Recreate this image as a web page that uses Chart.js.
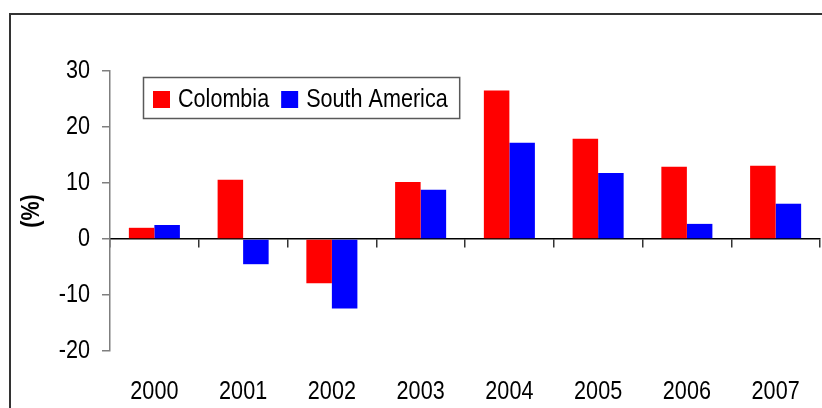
<!DOCTYPE html>
<html>
<head>
<meta charset="utf-8">
<script src="https://cdn.jsdelivr.net/npm/chart.js@4.4.0/dist/chart.umd.min.js"></script>
<style>
  html, body { margin: 0; padding: 0; background: #fff; overflow: hidden; }
  #wrap { position: relative; width: 822px; height: 408px; }
</style>
</head>
<body>
<div id="wrap"><canvas id="c" width="822" height="408"></canvas></div>
<script>
// Annual growth rates (%)
const years = ['2000', '2001', '2002', '2003', '2004', '2005', '2006', '2007'];
const colombia = [2.0, 10.6, -7.9, 10.2, 26.5, 17.9, 12.9, 13.1];
const southAmerica = [2.5, -4.5, -12.4, 8.8, 17.2, 11.8, 2.7, 6.3];
const seriesNames = ['Colombia', 'South America'];
const yMin = -20, yMax = 30, yStep = 10;
const yTitle = '(%)';

const FONT = "'Liberation Sans', Arial, sans-serif";
const FONT_SIZE = 26;
// Narrow face emulation: text is drawn horizontally condensed around its anchor
const TEXT_SCALE_X = 0.83;

const canvas = document.getElementById('c');
const ctx2d = canvas.getContext('2d');
const nativeFillText = ctx2d.fillText;
ctx2d.fillText = function (text, x, y, maxWidth) {
  this.save();
  this.translate(x, y);
  this.scale(TEXT_SCALE_X, 1);
  if (maxWidth === undefined) nativeFillText.call(this, text, 0, 0);
  else nativeFillText.call(this, text, 0, 0, maxWidth / TEXT_SCALE_X);
  this.restore();
};

// Outer frame around the figure (right and bottom edges run off the canvas)
const framePlugin = {
  id: 'frame',
  beforeDraw(chart) {
    const ctx = chart.ctx;
    ctx.save();
    ctx.strokeStyle = '#333';
    ctx.lineWidth = 2;
    ctx.strokeRect(10, 14, 1000, 1000);
    ctx.restore();
  }
};

// Boxed legend inside the plot area
const boxLegendPlugin = {
  id: 'boxLegend',
  afterDraw(chart) {
    const ctx = chart.ctx;
    const ds = chart.data.datasets;
    ctx.save();
    ctx.font = FONT_SIZE + 'px ' + FONT;
    ctx.textBaseline = 'middle';
    ctx.textAlign = 'left';
    const boxX = 143.5, boxY = 77.5, boxH = 41;
    const sw = 17, midY = 99.5, textGap = 8, itemGap = 12;
    let x = boxX + 9.5;
    const items = [];
    ds.forEach(d => {
      const w = ctx.measureText(d.label).width * TEXT_SCALE_X;
      items.push({ x, label: d.label, color: d.backgroundColor });
      x += sw + textGap + w + itemGap;
    });
    const boxW = x - boxX;
    ctx.strokeStyle = '#595959';
    ctx.lineWidth = 1.5;
    ctx.strokeRect(boxX, boxY, boxW, boxH);
    items.forEach(it => {
      ctx.fillStyle = it.color;
      ctx.fillRect(it.x, midY - sw / 2, sw, sw);
      ctx.fillStyle = '#000';
      ctx.fillText(it.label, it.x + sw + textGap, midY);
    });
    ctx.restore();
  }
};

new Chart(canvas, {
  type: 'bar',
  data: {
    labels: years,
    datasets: [
      { label: seriesNames[0], data: colombia, backgroundColor: '#ff0000', xAxisID: 'x', yAxisID: 'y' },
      { label: seriesNames[1], data: southAmerica, backgroundColor: '#0000ff', xAxisID: 'x', yAxisID: 'y' }
    ]
  },
  options: {
    responsive: false,
    animation: false,
    events: [],
    categoryPercentage: 0.575,
    barPercentage: 1.0,
    layout: { padding: { left: 0, right: 2, top: 71, bottom: 0 } },
    plugins: { legend: { display: false }, tooltip: { enabled: false } },
    scales: {
      x: {
        type: 'category',
        position: 'bottom',
        offset: true,
        // hidden tick marks only push the year labels down from the plot area
        grid: { display: false, drawTicks: true, tickLength: 25 },
        border: { display: false },
        ticks: { font: { family: FONT, size: FONT_SIZE }, color: '#000', padding: 0, maxRotation: 0, autoSkip: false },
        afterFit(scale) { scale.height = 57; }
      },
      // zero line with category boundary tick marks
      x0: {
        type: 'category',
        labels: years,
        position: { y: 0 },
        offset: true,
        grid: { offset: true, drawOnChartArea: false, drawTicks: true, tickLength: 8, color: '#333', lineWidth: 1.5 },
        border: { display: true, color: '#000', width: 1.5 },
        ticks: { display: false },
        afterFit(scale) { scale.height = 0; }
      },
      y: {
        position: 'left',
        min: yMin,
        max: yMax,
        ticks: { stepSize: yStep, font: { family: FONT, size: FONT_SIZE }, color: '#000', padding: 12 },
        grid: { drawOnChartArea: false, drawTicks: true, tickLength: 8, color: '#7f7f7f', lineWidth: 1.5 },
        border: { display: true, color: '#7f7f7f', width: 1.5 },
        title: { display: true, text: yTitle, font: { family: FONT, size: FONT_SIZE, weight: 'bold' }, color: '#000', padding: { top: 16.4, bottom: 0 } },
        afterFit(scale) { scale.width = 110; }
      }
    }
  },
  plugins: [framePlugin, boxLegendPlugin]
});
</script>
</body>
</html>
